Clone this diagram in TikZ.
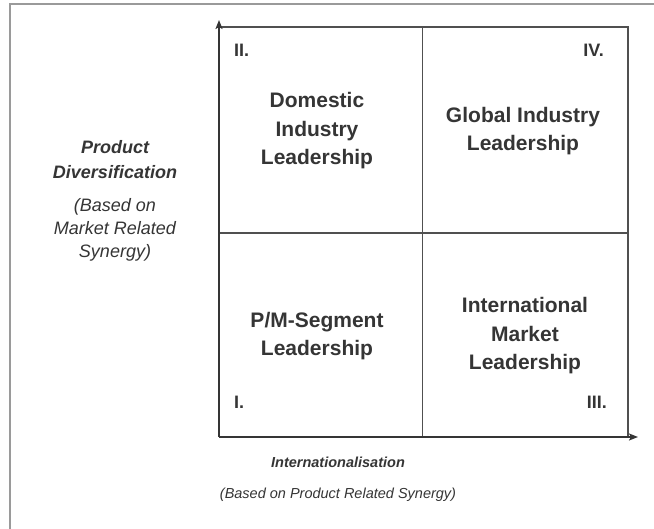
\documentclass[tikz,border=0pt]{standalone}
\usepackage{fontspec}
\setmainfont{Liberation Sans}
\usetikzlibrary{arrows.meta}
\definecolor{ink}{HTML}{353535}
\definecolor{frame}{HTML}{9A9A9A}
\definecolor{rule}{HTML}{505050}
\begin{document}
\begin{tikzpicture}[x=1pt,y=-1pt,
  quad/.style={font=\fontsize{21}{28.5}\selectfont\bfseries, text=ink, align=center, inner sep=0pt},
  numeral/.style={font=\fontsize{18}{20}\selectfont\bfseries, text=ink, inner sep=0pt},
  axistitle/.style={font=\fontsize{18}{25}\selectfont\bfseries\itshape, text=ink, align=center, inner sep=0pt},
  axisnote/.style={font=\fontsize{18}{23}\selectfont\itshape, text=ink, align=center, inner sep=0pt},
  axis/.style={draw=ink, line width=1.9pt, -{Stealth[length=9pt,width=7pt,inset=2pt]}},
  cellline/.style={draw=rule, line width=1.3pt},
  framecut/.style={draw=frame, line width=1.2pt}]
  \useasboundingbox (0,0) rectangle (654,529);
  \fill[white] (0,0) rectangle (654,529);

  % cropped page frame (top and left edges)
  \coordinate (ftl) at (10,4);
  \coordinate (ftr) at (654,4);
  \coordinate (fbl) at (10,529);
  \draw[framecut] (ftr) -- (ftl) -- (fbl);

  % matrix cells
  \coordinate (o)  at (219,437);
  \coordinate (tl) at (219,27);
  \coordinate (tr) at (628,27);
  \coordinate (br) at (628,437);
  \coordinate (mt) at (422,27);
  \coordinate (mb) at (422,437);
  \coordinate (ml) at (219,233);
  \coordinate (mr) at (628,233);
  \draw[cellline] (tl) -- (tr) -- (br);
  \draw[cellline, line width=1pt] (mt) -- (mb);
  \draw[cellline] (ml) -- (mr);

  % axes
  \coordinate (xend) at (638,437);
  \coordinate (yend) at (219,20);
  \draw[axis] (o) -- (xend);
  \draw[axis] (o) -- (yend);

  % quadrant numbers
  \node[numeral, anchor=west] (n2) at (234,50) {II.};
  \node[numeral, anchor=east] (n4) at (604,50) {IV.};
  \node[numeral, anchor=west] (n1) at (234,402) {I.};
  \node[numeral, anchor=east] (n3) at (607,402) {III.};

  % quadrant labels
  \node[quad] (q2) at (317,131) {Domestic\\Industry\\Leadership};
  \node[quad] (q4) at (523,131) {Global Industry\\Leadership};
  \node[quad] (q1) at (317,336) {P/M-Segment\\Leadership};
  \node[quad] (q3) at (525,336) {International\\Market\\Leadership};

  % vertical axis title
  \node[axistitle] (ytitle) at (115,160) {Product\\Diversification};
  \node[axisnote] (ynote) at (115,230) {(Based on\\Market Related\\Synergy)};

  % horizontal axis title
  \node[font=\fontsize{14.5}{17}\selectfont\bfseries\itshape, text=ink, inner sep=0pt] (xtitle) at (338,462) {Internationalisation};
  \node[font=\fontsize{14.5}{17}\selectfont\itshape, text=ink, inner sep=0pt] (xnote) at (338,495) {(Based on Product Related Synergy)};
\end{tikzpicture}
\end{document}
